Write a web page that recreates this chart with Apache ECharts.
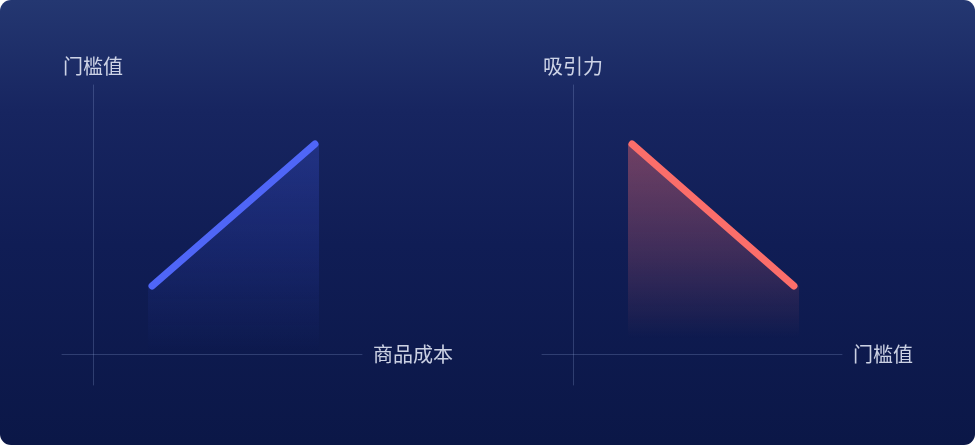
<!DOCTYPE html>
<html>
<head>
<meta charset="utf-8">
<script src="https://cdn.jsdelivr.net/npm/echarts@6/dist/echarts.min.js"></script>
<style>
  html, body { margin: 0; padding: 0; background: #ffffff; }
  #wrap { position: absolute; left: 0; top: 0; width: 975px; height: 445px; border-radius: 11px; overflow: hidden;
    background: linear-gradient(180deg, #243771 0%, #172560 25%, #101d55 55%, #0b1747 100%); }
  #chart { width: 975px; height: 445px; }
</style>
</head>
<body>
<div id="wrap"><div id="chart"></div></div>
<script>
// Axis names
const leftXName = '商品成本';
const leftYName = '门槛值';
const rightXName = '门槛值';
const rightYName = '吸引力';

// Axis extents (shared by both panels)
const axisMin = -3.1;
const axisMax = 26.9;

// Left panel: threshold rises with cost
const leftLine = [[5.9, 6.8], [22.2, 21.0]];
const leftArea = [[5.5, 6.8], [5.9, 6.8], [22.2, 21.0], [22.6, 21.0]];

// Right panel: attraction falls with threshold
const rightLine = [[5.9, 21.0], [22.1, 6.8]];
const rightArea = [[5.5, 21.0], [5.9, 21.0], [22.1, 6.8], [22.6, 6.8]];

const axisLineStyle = { color: 'rgba(160,180,230,0.24)', width: 1 };
const nameStyle = { color: 'rgba(230,234,248,0.88)', fontSize: 20, fontFamily: 'Noto Sans CJK SC' };

function xAxis(idx, name) {
  return {
    type: 'value', gridIndex: idx, min: axisMin, max: axisMax,
    name: name, nameLocation: 'end', nameGap: 11, nameTextStyle: nameStyle,
    axisLine: { show: true, onZero: true, lineStyle: axisLineStyle },
    axisTick: { show: false }, axisLabel: { show: false }, splitLine: { show: false }
  };
}
function yAxis(idx, name) {
  return {
    type: 'value', gridIndex: idx, min: axisMin, max: axisMax,
    name: name, nameLocation: 'end', nameGap: 9, nameTextStyle: nameStyle,
    axisLine: { show: true, onZero: true, lineStyle: axisLineStyle },
    axisTick: { show: false }, axisLabel: { show: false }, splitLine: { show: false }
  };
}
function grad(rgb, a0, aMid, stopEnd) {
  return new echarts.graphic.LinearGradient(0, 0, 0, 1, [
    { offset: 0, color: 'rgba(' + rgb + ',' + a0 + ')' },
    { offset: 0.5, color: 'rgba(' + rgb + ',' + aMid + ')' },
    { offset: stopEnd, color: 'rgba(' + rgb + ',0)' },
    { offset: 1, color: 'rgba(' + rgb + ',0)' }
  ]);
}

const chart = echarts.init(document.getElementById('chart'), null, { renderer: 'canvas' });
chart.setOption({
  backgroundColor: 'transparent',
  animation: false,
  grid: [
    { left: 62, top: 85, width: 300, height: 300 },
    { left: 542, top: 85, width: 300, height: 300 }
  ],
  xAxis: [xAxis(0, leftXName), xAxis(1, rightXName)],
  yAxis: [yAxis(0, leftYName), yAxis(1, rightYName)],
  series: [
    { type: 'line', xAxisIndex: 0, yAxisIndex: 0, data: leftArea, symbol: 'none', silent: true,
      lineStyle: { width: 0, opacity: 0 },
      areaStyle: { color: grad('70,95,245', 0.36, 0.2, 0.99) } },
    { type: 'line', xAxisIndex: 0, yAxisIndex: 0, data: leftLine, symbol: 'none',
      lineStyle: { width: 7, color: '#4f66f7', cap: 'round' } },
    { type: 'line', xAxisIndex: 1, yAxisIndex: 1, data: rightArea, symbol: 'none', silent: true,
      lineStyle: { width: 0, opacity: 0 },
      areaStyle: { color: grad('255,112,112', 0.56, 0.29, 0.93) } },
    { type: 'line', xAxisIndex: 1, yAxisIndex: 1, data: rightLine, symbol: 'none',
      lineStyle: { width: 7, color: '#fb6e6a', cap: 'round' } }
  ]
});
</script>
</body>
</html>
